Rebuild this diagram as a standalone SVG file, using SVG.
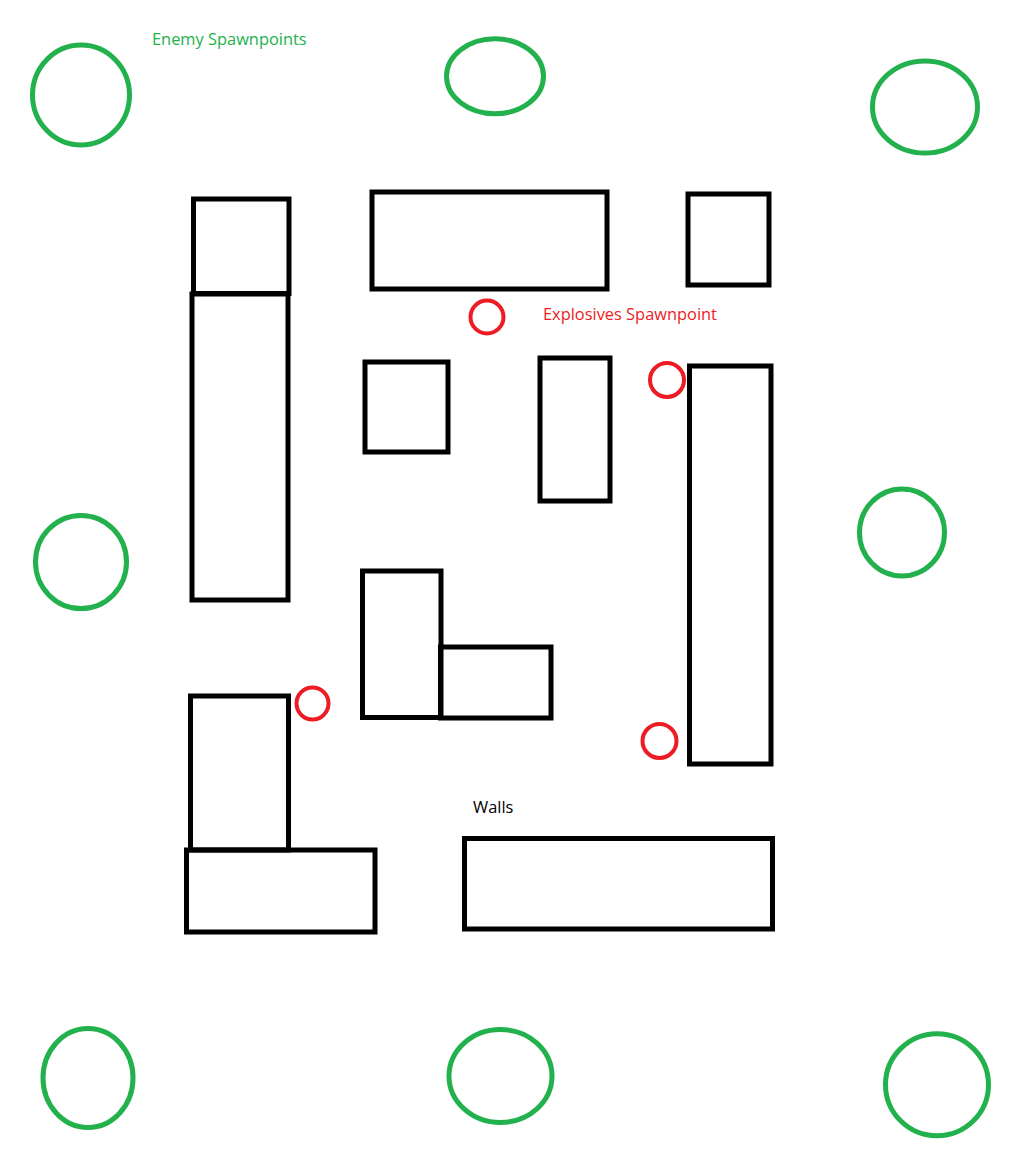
<svg xmlns="http://www.w3.org/2000/svg" width="1024" height="1158" viewBox="0 0 1024 1158">
<style>
.wall{fill:none;stroke:#000;stroke-width:5}
.enemy{fill:none;stroke:#22b14c;stroke-width:5}
.expl{fill:none;stroke:#ed1c24;stroke-width:4}
.lbl{font-family:"Open Sans","Noto Sans",sans-serif;font-size:16.4px}
</style>
<rect width="1024" height="1158" fill="#fff"/>
<g id="enemy-spawnpoints">
<ellipse class="enemy" cx="81" cy="95" rx="48.5" ry="50"/>
<ellipse class="enemy" cx="495" cy="76.3" rx="48.5" ry="37.5"/>
<ellipse class="enemy" cx="925" cy="107" rx="52.5" ry="46"/>
<ellipse class="enemy" cx="81" cy="562" rx="45.5" ry="46.5"/>
<ellipse class="enemy" cx="902" cy="532.5" rx="42.5" ry="43.5"/>
<ellipse class="enemy" cx="88" cy="1078" rx="45" ry="49.5"/>
<ellipse class="enemy" cx="500.5" cy="1076" rx="51.5" ry="46.5"/>
<ellipse class="enemy" cx="937" cy="1084.7" rx="51.5" ry="51"/>
</g>
<g id="walls">
<rect class="wall" x="193.5" y="199" width="95.5" height="94.5"/>
<rect class="wall" x="192" y="294" width="96" height="306"/>
<rect class="wall" x="372" y="192" width="235" height="97"/>
<rect class="wall" x="688" y="194" width="81" height="91"/>
<rect class="wall" x="365" y="362" width="83" height="90"/>
<rect class="wall" x="540" y="358" width="70" height="143"/>
<rect class="wall" x="689.5" y="366" width="81.5" height="398"/>
<rect class="wall" x="362.5" y="571" width="78.5" height="146.5"/>
<rect class="wall" x="440.5" y="647" width="110.5" height="71"/>
<rect class="wall" x="190.5" y="696" width="98" height="154"/>
<rect class="wall" x="186.5" y="850" width="188.5" height="82"/>
<rect class="wall" x="464.5" y="838.5" width="308" height="90.5"/>
</g>
<g id="explosives-spawnpoints">
<circle class="expl" cx="487" cy="317" r="16.5"/>
<circle class="expl" cx="667" cy="380" r="17"/>
<circle class="expl" cx="312.5" cy="703.5" r="16"/>
<circle class="expl" cx="659.5" cy="741" r="17"/>
</g>
<g id="labels">
<text class="lbl" x="152" y="45" fill="#22b14c">Enemy Spawnpoints</text>
<text class="lbl" x="543" y="320" fill="#ed1c24">Explosives Spawnpoint</text>
<text class="lbl" x="473" y="813" fill="#000">Walls</text>
</g>
</svg>
